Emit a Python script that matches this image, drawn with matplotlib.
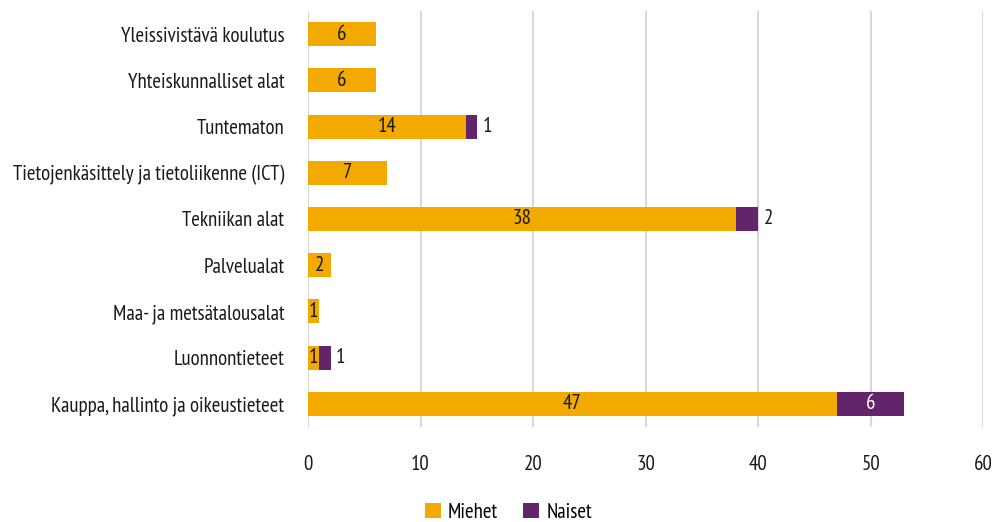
import matplotlib.pyplot as plt

plt.rcParams['font.family'] = ['PT Sans Narrow', 'Roboto Condensed', 'Fira Sans Condensed',
                               'Barlow Semi Condensed', 'DejaVu Sans']

categories = ['Yleissivistävä koulutus', 'Yhteiskunnalliset alat', 'Tuntematon',
              'Tietojenkäsittely ja tietoliikenne (ICT)', 'Tekniikan alat',
              'Palvelualat', 'Maa- ja metsätalousalat', 'Luonnontieteet',
              'Kauppa, hallinto ja oikeustieteet']
miehet = [6, 6, 14, 7, 38, 2, 1, 1, 47]
naiset = [0, 0, 1, 0, 2, 0, 0, 1, 6]

c_m = '#F2A900'
c_n = '#63256A'
fs = 15

fig = plt.figure(figsize=(9.97, 5.22), dpi=100)
ax = fig.add_axes([0.309, 0.182, 0.677, 0.797])

ypos = list(range(len(categories)))
h = 0.52
ax.barh(ypos, miehet, height=h, color=c_m, label='Miehet', zorder=3)
ax.barh(ypos, naiset, left=miehet, height=h, color=c_n, label='Naiset', zorder=3)

# arvot palkkien sisään, pienet Naiset-arvot palkin oikealle puolelle
for y, m, n in zip(ypos, miehet, naiset):
    if m:
        ax.text(m / 2, y, str(m), ha='center', va='center', fontsize=fs, color='#1a1a1a', zorder=4)
    if n:
        if n >= 3:
            ax.text(m + n / 2, y, str(n), ha='center', va='center', fontsize=fs, color='white', zorder=4)
        else:
            ax.text(m + n + 0.5, y, str(n), ha='left', va='center', fontsize=fs, color='#1a1a1a', zorder=4)

ax.set_xlim(0, 60)
ax.set_xticks(range(0, 61, 10))
ax.set_ylim(len(categories) - 0.5, -0.5)
ax.set_yticks(ypos)
ax.set_yticklabels(categories)
ax.grid(axis='x', color='#d9d9d9', lw=1.5, zorder=0)
for s in ax.spines.values():
    s.set_visible(False)
ax.tick_params(axis='both', length=0, labelsize=fs, colors='#1a1a1a')
ax.tick_params(axis='x', pad=20)
ax.tick_params(axis='y', pad=17)

fig.legend(loc='lower center', bbox_to_anchor=(0.51, -0.035), ncol=2, frameon=False,
           fontsize=fs, handlelength=0.75, handleheight=0.75, handletextpad=0.35,
           columnspacing=1.2)

fig.savefig('out.png', dpi=100)
